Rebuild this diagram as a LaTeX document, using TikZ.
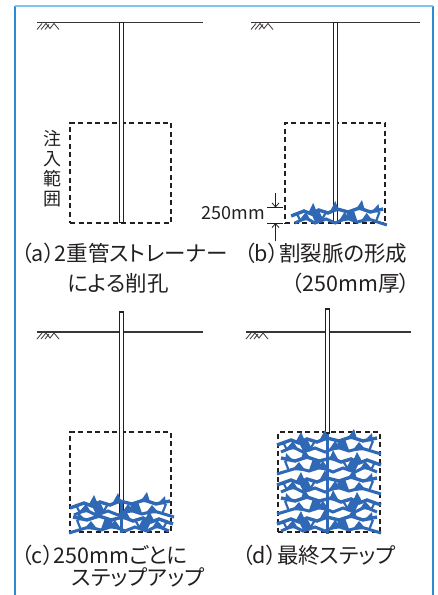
\documentclass[tikz,border=0pt]{standalone}
\usepackage{fontspec}
\setmainfont{Noto Sans CJK JP}[RawFeature=+palt]
\usetikzlibrary{arrows.meta}
\definecolor{frameline}{HTML}{2C8BD3}
\definecolor{frametop}{HTML}{7CC7F0}
\definecolor{veinblue}{HTML}{2F68B5}
\definecolor{inkdark}{HTML}{231F20}
\tikzset{
  ground/.style={draw=inkdark!90, line width=1.1bp},
  hatch/.style={draw=inkdark!90, line width=0.8bp, line join=miter},
  pipe/.style={draw=inkdark, fill=white, line width=1.2bp, minimum width=4bp, inner sep=0pt},
  zone/.style={draw=inkdark, dashed, dash pattern=on 5bp off 3.5bp, line width=1.1bp, inner sep=0pt},
  veinfill/.style={fill=veinblue},
  veinline/.style={draw=veinblue, line width=3.4bp, line join=miter, miter limit=4},
  rod/.style={draw=veinblue, line width=3bp},
  captxt/.style={font=\fontsize{21.5bp}{23bp}\selectfont, text=inkdark, inner sep=0pt},
  dimlbl/.style={font=\fontsize{18bp}{20bp}\selectfont, text=inkdark, inner sep=0pt},
  dimarr/.style={-{Straight Barb[length=4bp, width=7bp]}, draw=inkdark, line width=0.8bp},
  dimtick/.style={draw=inkdark, line width=0.8bp},
  vein/.pic={
    \draw[veinline] (-52,2) -- (-38,-3) -- (-30,0) -- (-22,-4) -- (-12,-1) -- (-2,-5) -- (10,-2)
      -- (22,-6) -- (34,-2) -- (48,-5);
    \draw[veinline, line width=3bp] (-48,9) -- (-36,4) -- (-26,9) -- (-14,5) -- (-4,9) -- (8,4)
      -- (20,8) -- (32,5) -- (52,11);
    \draw[veinline, line width=2.2bp] (-20,8) -- (-14,-2) (14,7) -- (10,-3) (40,8) -- (44,-2)
      (-42,7) -- (-46,-1);
    \fill[veinfill] (-34,0) -- (-28,-11) -- (-24,-2) -- cycle;
    \fill[veinfill] (-10,-2) -- (-4,-13) -- (0,-3) -- cycle;
    \fill[veinfill] (18,-4) -- (25,-14) -- (28,-4) -- cycle;
    \fill[veinfill] (36,-3) -- (43,-10) -- (44,-1) -- cycle;
    \fill[veinfill] (-44,7) -- (-36,-2) -- (-31,6) -- cycle;
    \fill[veinfill] (-1,8) -- (6,-2) -- (13,6) -- cycle;
    \fill[veinfill] (23,8) -- (30,-1) -- (37,7) -- cycle;
    \fill[veinfill] (-30,0) -- (-22,-4) -- (-17,6) -- (-26,8) -- cycle;
    \fill[veinfill] (8,-2) -- (16,-4) -- (20,7) -- (10,5) -- cycle;
  },
  earth/.pic={
    \draw[hatch] (0,6) -- (5,0);
    \draw[hatch] (4,6) -- (9,0) -- (13,5) -- (17,0) -- (22,6);
    \draw[hatch] (8,6) -- (12,1);
  },
}
\begin{document}
\begin{tikzpicture}[x=1bp, y=-1bp]
  \useasboundingbox (0,0) rectangle (438,595);
  % frame
  \draw[frameline, line width=1.6bp] (15,595) -- (15,6.5);
  \draw[frameline, line width=1.6bp] (433,6.5) -- (433,595);
  \draw[frametop, line width=1.6bp] (15,6) -- (433,6);

  % (a) boring with the double strainer
  \draw[ground] (37,22.5) -- (203,22.5);
  \pic at (37,23.5) {earth};
  \node[zone, minimum width=101bp, minimum height=100bp] (za) at (120.5,173) {};
  \node[pipe, minimum height=199.5bp] (pa) at (121.5,122.5) {};
  \node[font=\fontsize{18bp}{20bp}\selectfont, text=inkdark, align=center, inner sep=0pt] (range) at (52,169) {注\\入\\範\\囲};
  \node[captxt, anchor=west] (ca1) at (21,253) {（a）2重管ストレーナー};
  \node[captxt] (ca2) at (118,283) {による削孔};

  % (b) first fracture vein
  \draw[ground] (251,22.5) -- (420,22.5);
  \pic at (251,23.5) {earth};
  \node[zone, minimum width=100bp, minimum height=100bp] (zb) at (335,173) {};
  \node[pipe, minimum height=200.5bp] (pb) at (335.5,122.75) {};
  \pic[xscale=0.92] at (339,214) {vein};
  \coordinate (t1l) at (267,207.5); \coordinate (t1r) at (283,207.5);
  \coordinate (t2l) at (267,223);   \coordinate (t2r) at (283,223);
  \coordinate (a1) at (275.5,193);  \coordinate (a2) at (275.5,241);
  \draw[dimtick] (t1l) -- (t1r);
  \draw[dimtick] (t2l) -- (t2r);
  \draw[dimarr] (a1) -- (a1 |- t1l);
  \draw[dimarr] (a2) -- (a2 |- t2l);
  \node[dimlbl, anchor=east] (dim) at (265,213) {250mm};
  \node[captxt, anchor=west] (cb1) at (244,253) {（b）割裂脈の形成};
  \node[captxt] (cb2) at (351,283) {（250mm厚）};

  % (c) step up by 250mm
  \draw[ground] (37,332) -- (203,332);
  \pic at (37,333) {earth};
  \node[zone, minimum width=101bp, minimum height=100bp] (zc) at (120.5,482) {};
  \node[pipe, minimum height=200bp] (pc) at (121.5,412) {};
  \draw[rod] (121.5,500) -- (121.5,533);
  \pic at (122,506) {vein};
  \pic[xscale=-1] at (121,522) {vein};
  \node[captxt, anchor=west] (cc1) at (21,555) {（c）250mmごとに};
  \node[captxt] (cc2) at (138,577) {ステップアップ};

  % (d) last step
  \draw[ground] (246,332) -- (411,332);
  \pic at (246,333) {earth};
  \node[zone, minimum width=102bp, minimum height=100bp] (zd) at (329,482) {};
  \node[pipe, minimum height=124bp] (pd) at (327.5,371) {};
  \foreach \y/\s in {443/1, 463/-1, 483/1, 503/-1, 522/1}
    \pic[xscale=\s] at (329,\y) {vein};
  \draw[rod] (pd.south) -- (327.5,534);
  \node[captxt, anchor=west] (cd1) at (242,555) {（d）最終ステップ};
\end{tikzpicture}
\end{document}
